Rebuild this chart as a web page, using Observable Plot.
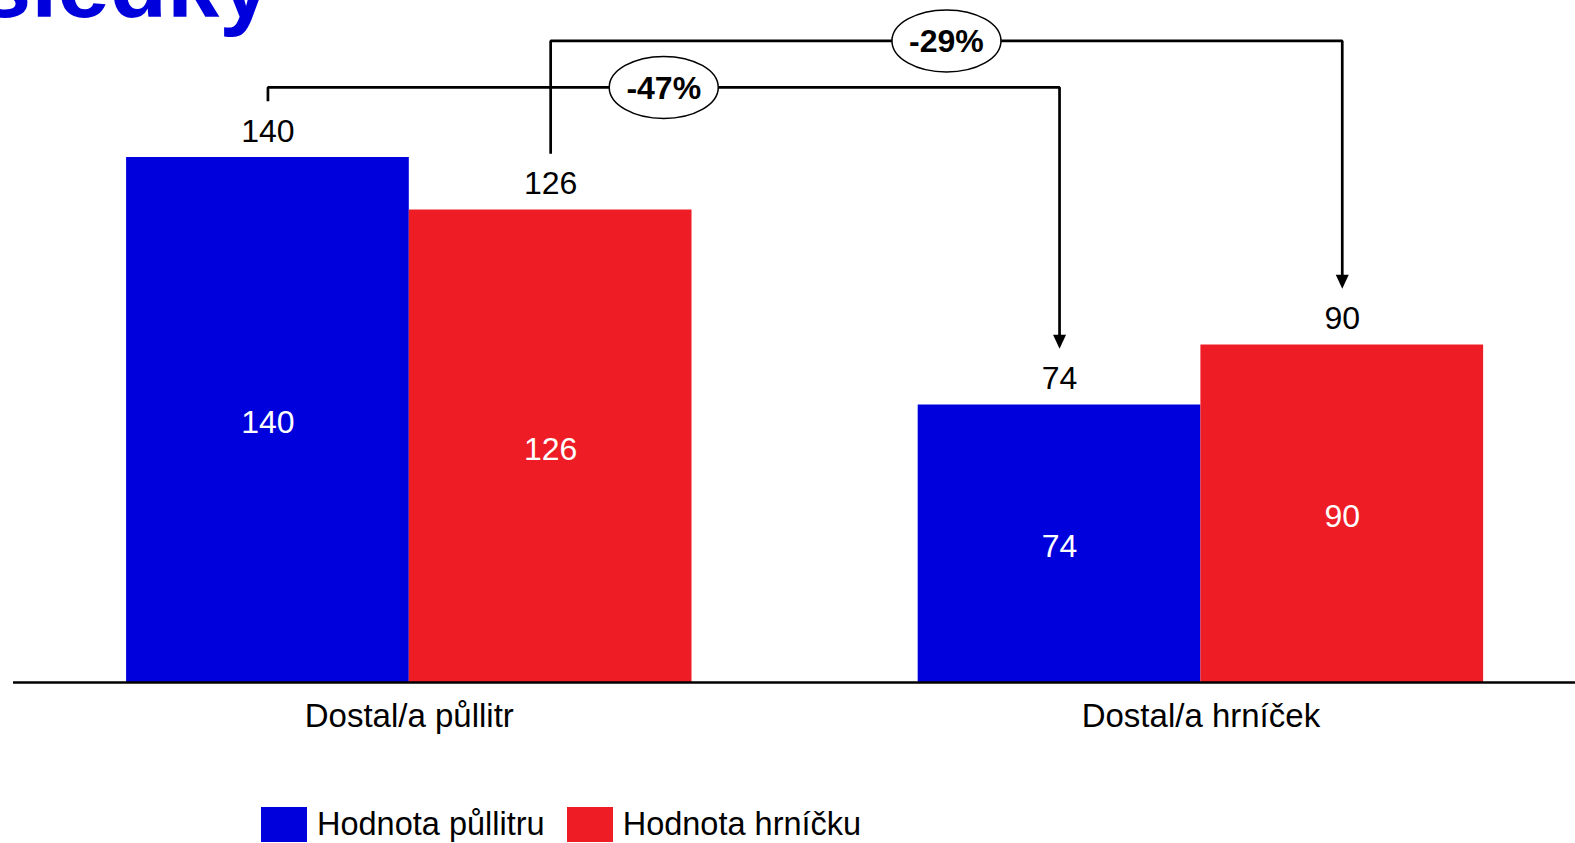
<!DOCTYPE html>
<html>
<head>
<meta charset="utf-8">
<script src="https://cdn.jsdelivr.net/npm/d3@7"></script>
<script src="https://cdn.jsdelivr.net/npm/@observablehq/plot@0.6"></script>
<style>
  html, body { margin: 0; padding: 0; background: #fff; overflow: hidden; }
  body { width: 1575px; height: 843px; position: relative; font-family: "Liberation Sans", Arial, sans-serif; }
  #title { position: absolute; left: -136px; top: -62px; font-size: 94px; line-height: 1; font-weight: bold; color: #0000DC; white-space: nowrap; }
  #chart { position: absolute; left: 0; top: 0; }
  #legend { position: absolute; left: 261px; top: 806px; display: flex; align-items: center; font-size: 32.5px; color: #000; }
  .sw { width: 46px; height: 35px; margin-right: 10px; }
  .item { display: flex; align-items: center; margin-right: 22px; white-space: nowrap; }
</style>
</head>
<body>
<div id="title">Výsledky</div>
<div id="chart"></div>
<div id="legend"></div>
<script>
// ---- data ----
const categories = ["Dostal/a půllitr", "Dostal/a hrníček"];
const seriesNames = ["Hodnota půllitru", "Hodnota hrníčku"];
const pullitrValues = [140, 74];
const hrnicekValues = [126, 90];
const changeLabels = ["-47%", "-29%"];
const seriesColors = ["#0000DC", "#EE1C25"];

// ---- layout helpers (bar units) ----
const groupGap = 0.8;              // gap between groups, in bar widths
const pos = (g, s) => g * (seriesNames.length + groupGap) + s + 0.5;
const arrowGap = 15;               // bracket ends this far above bar tops (value units)
const bracketLevels = [158.7, 171.1];

const seriesValues = [pullitrValues, hrnicekValues];
const bars = [];
categories.forEach((c, g) => seriesNames.forEach((s, si) => {
  bars.push({category: c, series: s, g, si, value: seriesValues[si][g], x: pos(g, si)});
}));

const brackets = [];
const tips = [];
const badges = [];
seriesNames.forEach((s, si) => {
  const x0 = pos(0, si), x1 = pos(1, si);
  const v0 = seriesValues[si][0], v1 = seriesValues[si][1];
  const L = bracketLevels[si];
  brackets.push(
    {id: si, x: x0, y: v0 + arrowGap},
    {id: si, x: x0, y: L},
    {id: si, x: x1, y: L},
    {id: si, x: x1, y: v1 + arrowGap + 3}
  );
  tips.push({x: x1, y: v1 + arrowGap});
  badges.push({x: (x0 + x1) / 2, y: L, label: changeLabels[si]});
});

const k = 0.5523;
const ellipseSymbol = {draw(ctx) {
  const rx = 54.5, ry = 31;
  ctx.moveTo(rx, 0);
  ctx.bezierCurveTo(rx, ry * k, rx * k, ry, 0, ry);
  ctx.bezierCurveTo(-rx * k, ry, -rx, ry * k, -rx, 0);
  ctx.bezierCurveTo(-rx, -ry * k, -rx * k, -ry, 0, -ry);
  ctx.bezierCurveTo(rx * k, -ry, rx, -ry * k, rx, 0);
  ctx.closePath();
}};
const downTriangle = {draw(ctx) {
  ctx.moveTo(-6.5, -14);
  ctx.lineTo(6.5, -14);
  ctx.lineTo(0, 0);
  ctx.closePath();
}};

const font = "Liberation Sans, Arial, sans-serif";

const plot = Plot.plot({
  width: 1575,
  height: 790,
  marginTop: 0,
  marginBottom: 108,
  marginLeft: 13,
  marginRight: 0,
  style: {fontFamily: font, background: "transparent"},
  x: {type: "linear", domain: [-0.4, 5.125], axis: null},
  y: {domain: [0, 181.87], axis: null},
  color: {domain: seriesNames, range: seriesColors},
  marks: [
    Plot.rect(bars, {x1: d => d.x - 0.5, x2: d => d.x + 0.5, y1: 0, y2: "value", fill: "series"}),
    Plot.ruleY([0], {stroke: "#000", strokeWidth: 2.5}),
    Plot.text(bars, {x: "x", y: d => d.value / 2, text: d => String(d.value), fill: "#fff", fontSize: 32, dy: 3}),
    Plot.text(bars, {x: "x", y: "value", text: d => String(d.value), fill: "#000", fontSize: 32, dy: -26}),
    Plot.text(categories, {x: (d, i) => (pos(i, 0) + pos(i, seriesNames.length - 1)) / 2, y: 0, text: d => d, fill: "#000", fontSize: 33, dy: 34}),
    Plot.line(brackets, {x: "x", y: "y", z: "id", stroke: "#000", strokeWidth: 2.7, curve: "linear", strokeLinejoin: "miter", strokeLinecap: "butt"}),
    Plot.dot(tips, {x: "x", y: "y", symbol: downTriangle, fill: "#000", stroke: "none"}),
    Plot.dot(badges, {x: "x", y: "y", symbol: ellipseSymbol, fill: "#fff", stroke: "#000", strokeWidth: 1.5}),
    Plot.text(badges, {x: "x", y: "y", text: "label", fontSize: 32, fontWeight: "bold", fill: "#000", dy: 1})
  ]
});
document.getElementById("chart").appendChild(plot);

const legend = document.getElementById("legend");
seriesNames.forEach((s, i) => {
  const item = document.createElement("div");
  item.className = "item";
  const sw = document.createElement("div");
  sw.className = "sw";
  sw.style.background = seriesColors[i];
  const t = document.createElement("span");
  t.textContent = s;
  item.appendChild(sw);
  item.appendChild(t);
  legend.appendChild(item);
});
</script>
</body>
</html>
